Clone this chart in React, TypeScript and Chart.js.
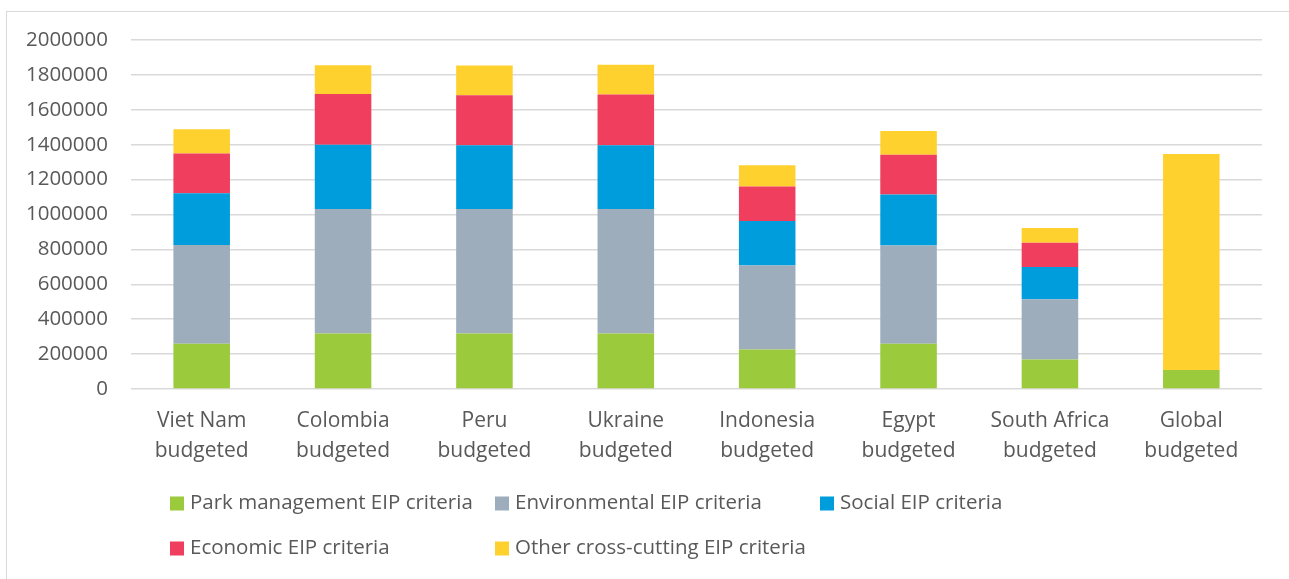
import React, { useEffect, useRef } from "react";
import { Chart, registerables } from "chart.js";

Chart.register(...registerables);

const categories: string[][] = [
  ["Viet Nam", "budgeted"],
  ["Colombia", "budgeted"],
  ["Peru", "budgeted"],
  ["Ukraine", "budgeted"],
  ["Indonesia", "budgeted"],
  ["Egypt", "budgeted"],
  ["South Africa", "budgeted"],
  ["Global", "budgeted"],
];

const parkManagement = [260000, 318000, 318000, 318000, 226000, 260000, 169000, 109000];
const environmental = [565000, 713000, 713000, 713000, 482000, 563000, 346000, 0];
const social = [297000, 369000, 366000, 366000, 255000, 291000, 184000, 0];
const economic = [227000, 290000, 287000, 291000, 197000, 229000, 139000, 0];
const otherCrossCutting = [140000, 166000, 170000, 170000, 122000, 135000, 85000, 1238000];

const seriesLabels = [
  "Park management EIP criteria",
  "Environmental EIP criteria",
  "Social EIP criteria",
  "Economic EIP criteria",
  "Other cross-cutting EIP criteria",
];
const seriesColors = ["#9BCA3C", "#9DADBC", "#009DDC", "#EF3E5E", "#FFD12F"];

const yMin = 0;
const yMax = 2000000;
const yStep = 200000;

const FONT = "'Open Sans', 'Noto Sans', sans-serif";
const TEXT = "#595959";
const GRID = "#d9d9d9";

const gridLegend = {
  id: "gridLegend",
  afterDraw(chart: any) {
    const ctx = chart.ctx;
    const area = chart.chartArea;
    const startX = area.left + 39;
    const colW = 325;
    const row0 = area.bottom + 114.5;
    const rowH = 45;
    const cols = 3;
    ctx.save();
    ctx.font = `20.5px ${FONT}`;
    ctx.textBaseline = "middle";
    ctx.textAlign = "left";
    chart.data.datasets.forEach((ds: any, i: number) => {
      const c = i % cols;
      const r = Math.floor(i / cols);
      const x = startX + c * colW;
      const y = row0 + r * rowH;
      ctx.fillStyle = ds.backgroundColor;
      ctx.fillRect(x, y - 7, 14, 14);
      ctx.fillStyle = TEXT;
      ctx.fillText(ds.label, x + 20, y);
    });
    ctx.restore();
  },
};

export default function App() {
  const canvasRef = useRef<HTMLCanvasElement | null>(null);

  useEffect(() => {
    document.body.style.overflow = "hidden";
    const canvas = canvasRef.current;
    if (!canvas) return;
    const values = [parkManagement, environmental, social, economic, otherCrossCutting];
    const chart = new Chart(canvas, {
      type: "bar",
      data: {
        labels: categories,
        datasets: values.map((v, i) => ({
          label: seriesLabels[i],
          data: v,
          backgroundColor: seriesColors[i],
          borderWidth: 0,
          barPercentage: 0.4,
          categoryPercentage: 1,
        })),
      },
      options: {
        animation: false,
        responsive: true,
        maintainAspectRatio: false,
        layout: { padding: { left: 0, right: 27, top: 40, bottom: 110 } },
        plugins: {
          legend: { display: false },
          tooltip: { enabled: false },
        },
        scales: {
          x: {
            stacked: true,
            grid: { display: false, drawTicks: false },
            border: { display: false },
            ticks: {
              color: TEXT,
              font: { family: FONT, size: 21, lineHeight: 1.43 },
              padding: 17,
              maxRotation: 0,
              autoSkip: false,
            },
            afterFit: (scale: any) => {
              scale.height = 80;
            },
          },
          y: {
            stacked: true,
            min: yMin,
            max: yMax,
            grid: { color: GRID, lineWidth: 1.5, drawTicks: false },
            border: { display: false },
            ticks: {
              stepSize: yStep,
              color: TEXT,
              font: { family: FONT, size: 20.5 },
              padding: 23,
              callback: (v: any) => String(v),
            },
            afterFit: (scale: any) => {
              scale.width = 131;
            },
          },
        },
      },
      plugins: [gridLegend],
    });
    return () => chart.destroy();
  }, []);

  return (
    <>
      <div
        style={{
          position: "absolute",
          left: 6,
          top: 11,
          width: 1283,
          height: 568,
          borderTop: "1px solid #d9d9d9",
          borderLeft: "1px solid #d9d9d9",
          boxSizing: "border-box",
        }}
      />
      <div style={{ position: "absolute", left: 0, top: 0, width: 1289, height: 579 }}>
        <canvas ref={canvasRef} />
      </div>
    </>
  );
}
